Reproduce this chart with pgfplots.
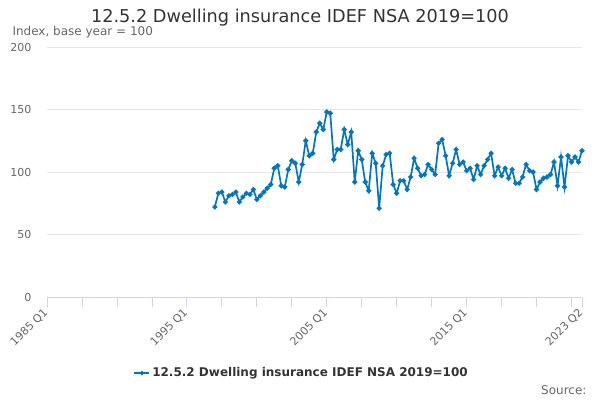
\documentclass[border=0pt]{standalone}
\usepackage{pgfplots}
\pgfplotsset{compat=1.18}
\usepackage{fontspec}
\setmainfont{DejaVu Sans}
\definecolor{ser}{RGB}{0,119,192}
\definecolor{txt}{RGB}{51,51,51}
\definecolor{lab}{RGB}{102,102,102}
\definecolor{grd}{RGB}{230,230,230}
\definecolor{axl}{RGB}{204,214,235}
\pgfplotstableread{
q v
48 72
49 83
50 84
51 76
52 81
53 82
54 84
55 76
56 80
57 83
58 82
59 86
60 78
61 81
62 84
63 87
64 90
65 103
66 105
67 89
68 88
69 102
70 109
71 107
72 92
73 106
74 125
75 113
76 115
77 132
78 139
79 134
80 148
81 147
82 110
83 118
84 118
85 134
86 122
87 132
88 92
89 117
90 110
91 92
92 85
93 115
94 107
95 71
96 105
97 114
98 115
99 90
100 83
101 93
102 93
103 86
104 96
105 111
106 103
107 97
108 98
109 106
110 102
111 98
112 123
113 126
114 113
115 97
116 107
117 118
118 106
119 108
120 101
121 103
122 94
123 105
124 98
125 105
126 110
127 115
128 97
129 104
130 97
131 103
132 95
133 102
134 91
135 91
136 96
137 106
138 101
139 100
140 86
141 92
142 95
143 96
144 98
145 108
146 89
147 112
148 88
149 113
150 108
151 112
152 108
153 117
}\dwell
\begin{document}
\begin{tikzpicture}
\path[use as bounding box] (0pt,0pt) rectangle (600pt,400pt);
\node[text=txt,font=\fontsize{17.7}{21}\selectfont] at (300pt,382pt) {12.5.2 Dwelling insurance IDEF NSA 2019=100};
\node[anchor=west,text=lab,font=\fontsize{12}{14}\selectfont] at (9pt,368pt) {Index, base year = 100};
\node[anchor=east,text=lab,font=\fontsize{12}{14}\selectfont] at (590pt,10pt) {Source:};
\begin{axis}[
  at={(47pt,103pt)},anchor=south west,
  width=535pt,height=250pt,scale only axis,
  xmin=0,xmax=153,ymin=0,ymax=200,
  axis x line*=bottom, axis y line*=left,
  y axis line style={draw=none},
  x axis line style={draw=axl,line width=0.8pt},
  ytick={0,50,...,200},
  ytick style={draw=none},
  ymajorgrids, grid style={draw=grd,line width=0.8pt},
  xtick={0,40,80,120,153},
  xticklabels={1985 Q1,1995 Q1,2005 Q1,2015 Q1,2023 Q2},
  minor xtick={10,20,30,50,60,70,90,100,110,130,140,150},
  xtick style={draw=axl,line width=0.8pt},
  tick align=outside, major tick length=10pt, minor tick length=10pt,
  /pgf/number format/assume math mode=true,
  yticklabel style={text=lab,font=\fontsize{11}{13}\selectfont,xshift=-2pt},
  xticklabel style={text=lab,font=\fontsize{11}{13}\selectfont,rotate=45,anchor=east,yshift=-2pt},
  legend style={at={(0.476,-0.304)},anchor=center,draw=none,fill=none,
    font=\fontsize{12}{14}\selectfont\bfseries,text=txt},
  legend image code/.code={\draw[#1,mark size=1.2pt] (0pt,0pt) -- (15pt,0pt) plot coordinates {(7.5pt,0pt)};},
]
\addplot[ser,line width=1.7pt,mark=*,mark size=1.6pt] table[x=q,y=v] {\dwell};
\addlegendentry{12.5.2 Dwelling insurance IDEF NSA 2019=100}
\end{axis}
\end{tikzpicture}
\end{document}
